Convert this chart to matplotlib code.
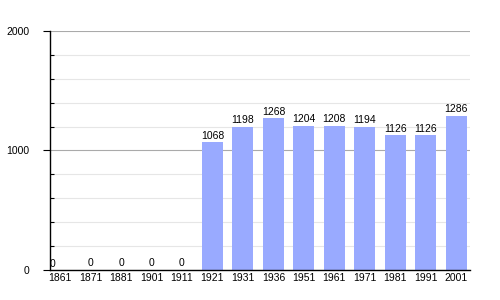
import matplotlib
matplotlib.use("Agg")
import matplotlib.pyplot as plt
from matplotlib.ticker import MultipleLocator

years = ["1861", "1871", "1881", "1901", "1911", "1921", "1931", "1936",
         "1951", "1961", "1971", "1981", "1991", "2001"]
population = [0, 0, 0, 0, 0, 1068, 1198, 1268, 1204, 1208, 1194, 1126, 1126, 1286]

plt.rcParams['font.family'] = ['Liberation Sans', 'DejaVu Sans']
fig = plt.figure(figsize=(5, 3), dpi=100)
ax = fig.add_axes([0.1, 0.1, 0.84, 0.797])

x = list(range(len(years)))
ax.bar(x, population, width=0.69, color="#99aaff", zorder=2)
for xi, v in zip(x, population):
    if xi == 0:
        ax.text(xi - 0.25, v + 8, str(v), ha="center", va="bottom", fontsize=7.5)
    else:
        ax.text(xi, v + 15, str(v), ha="center", va="bottom", fontsize=7.5)

ax.set_xlim(-0.33, len(years) - 1 + 0.45)
ax.set_ylim(0, 2000)
ax.set_xticks(x)
ax.set_xticklabels(years, fontsize=7.5)
ax.set_yticks([0, 1000, 2000])
ax.set_yticklabels(["0", "1000", "2000"], fontsize=7.5)
ax.yaxis.set_minor_locator(MultipleLocator(200))
ax.tick_params(axis="x", length=0, pad=2)
ax.tick_params(axis="y", which="major", length=5, width=0.8, direction="out", pad=10)
ax.tick_params(axis="y", which="minor", length=3, width=0.8, direction="in")
ax.grid(axis="y", which="major", color="#aaaaaa", linewidth=0.8, zorder=0)
ax.grid(axis="y", which="minor", color="#e6e6e6", linewidth=0.8, zorder=0)
ax.set_axisbelow(True)
for s in ["top", "right"]:
    ax.spines[s].set_visible(False)
ax.spines["left"].set_linewidth(1)
ax.spines["bottom"].set_linewidth(1)

fig.savefig("out.png", dpi=100)
